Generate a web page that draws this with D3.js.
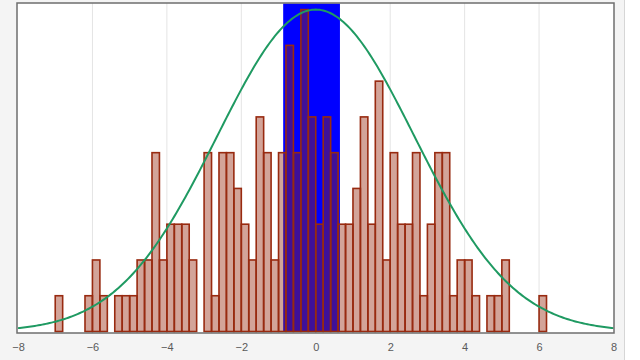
<!DOCTYPE html>
<html>
<head>
<meta charset="utf-8">
<script src="https://cdn.jsdelivr.net/npm/d3@7"></script>
<style>
	body { margin: 0; background: #ffffff; }
	.tick-label { font-family: "Liberation Sans", Arial, sans-serif; font-size: 11px; fill: #5a5a5a; }
</style>
</head>
<body>
<div id="chart"></div>
<script>
///////////////////////////////////////////////////////////////////////////
//////////////////////////// data /////////////////////////////////////////
///////////////////////////////////////////////////////////////////////////

// bins are 0.2 wide, starting at -8
const binStart = -8;
const binWidth = 0.2;
const binCounts = [
	0, 0, 0, 0, 0, 1, 0, 0, 0, 1,
	2, 1, 0, 1, 1, 1, 2, 2, 5, 2,
	3, 3, 3, 2, 0, 5, 1, 5, 5, 4,
	3, 2, 6, 5, 2, 5, 8, 5, 9, 6,
	3, 6, 5, 3, 3, 4, 6, 3, 7, 2,
	5, 3, 3, 5, 1, 3, 5, 5, 1, 2,
	2, 1, 0, 1, 1, 2, 0, 0, 0, 0,
	1, 0, 0, 0, 0, 0, 0, 0, 0, 0
];
const xTicks = [-8, -6, -4, -2, 0, 2, 4, 6, 8];
const highlightRange = [-0.875, 0.65]; // blue band
const curveMean = 0;
const curveSd = 2.65;

///////////////////////////////////////////////////////////////////////////
//////////////////////////// Set up svg ///////////////////////////////////
///////////////////////////////////////////////////////////////////////////

const width = 640;
const height = 360;
const margin = { top: 3.5, right: 26.5, bottom: 28.5, left: 18 };

const svg = d3.select("#chart")
	.append("svg")
	.attr("width", width)
	.attr("height", height);

// grey panel behind the plot
svg.append("rect")
	.attr("x", 0)
	.attr("y", 0)
	.attr("width", 625)
	.attr("height", height)
	.attr("fill", "#f4f4f4");
svg.append("line")
	.attr("x1", 624.5).attr("x2", 624.5)
	.attr("y1", 0).attr("y2", height)
	.attr("stroke", "#d6d6d6");

const bins = binCounts.map((c, i) => ({
	x0: binStart + i * binWidth,
	x1: binStart + (i + 1) * binWidth,
	count: c
}));

///////////////////////////////////////////////////////////////////////////
//////////////////////////// scales ///////////////////////////////////////
///////////////////////////////////////////////////////////////////////////

const xScale = d3.scaleLinear()
	.domain([-8, 8])
	.range([margin.left, width - margin.right]);

const yMax = d3.max(binCounts);
const yScale = d3.scaleLinear()
	.domain([0, yMax * 1.019])
	.range([height - margin.bottom, margin.top]);

///////////////////////////////////////////////////////////////////////////
//////////////////////////// plot /////////////////////////////////////////
///////////////////////////////////////////////////////////////////////////

// white plot area
svg.append("rect")
	.attr("x", 17)
	.attr("y", 3)
	.attr("width", 597)
	.attr("height", 330)
	.attr("fill", "#fff");

// grid
svg.append("g")
	.selectAll("line")
	.data(xTicks.slice(1, -1))
	.join("line")
	.attr("x1", (d) => xScale(d))
	.attr("x2", (d) => xScale(d))
	.attr("y1", 3)
	.attr("y2", 333)
	.attr("stroke", "#e4e4e4")
	.attr("stroke-width", 1);

// blue band
svg.append("rect")
	.attr("x", xScale(highlightRange[0]))
	.attr("y", yScale.range()[1])
	.attr("width", xScale(highlightRange[1]) - xScale(highlightRange[0]))
	.attr("height", yScale(0) - yScale.range()[1])
	.attr("fill", "#0000ff");

// bars
svg.append("g")
	.selectAll("rect")
	.data(bins)
	.join("rect")
	.attr("x", (d) => xScale(d.x0))
	.attr("y", (d) => yScale(d.count))
	.attr("width", (d) => xScale(d.x1) - xScale(d.x0))
	.attr("height", (d) => yScale(0) - yScale(d.count))
	.attr("fill", "rgba(151, 38, 12, 0.42)")
	.attr("stroke", "#982a10")
	.attr("stroke-width", 1.6);

// normal curve, peak scaled to tallest bar
const curvePts = d3.range(-8, 8.001, 0.05).map((x) => ({
	x: x,
	y: yMax * Math.exp(-Math.pow(x - curveMean, 2) / (2 * curveSd * curveSd))
}));
svg.append("path")
	.datum(curvePts)
	.attr("d", d3.line().x((d) => xScale(d.x)).y((d) => yScale(d.y)))
	.attr("fill", "none")
	.attr("stroke", "#1f9a62")
	.attr("stroke-width", 2);

// frame
svg.append("rect")
	.attr("x", 17)
	.attr("y", 3)
	.attr("width", 597)
	.attr("height", 330)
	.attr("fill", "none")
	.attr("stroke", "#6e6e6e")
	.attr("stroke-width", 1.5);

///////////////////////////////////////////////////////////////////////////
//////////////////////////// axes /////////////////////////////////////////
///////////////////////////////////////////////////////////////////////////

const xAxis = d3.axisBottom(xScale)
	.tickValues(xTicks)
	.tickSize(0)
	.tickPadding(10);

const gx = svg.append("g")
	.attr("transform", `translate(0, 333)`)
	.call(xAxis);
gx.select(".domain").remove();
gx.selectAll("text")
	.attr("class", "tick-label")
	.attr("fill", null)
	.attr("font-size", null)
	.attr("font-family", null);
</script>
</body>
</html>
